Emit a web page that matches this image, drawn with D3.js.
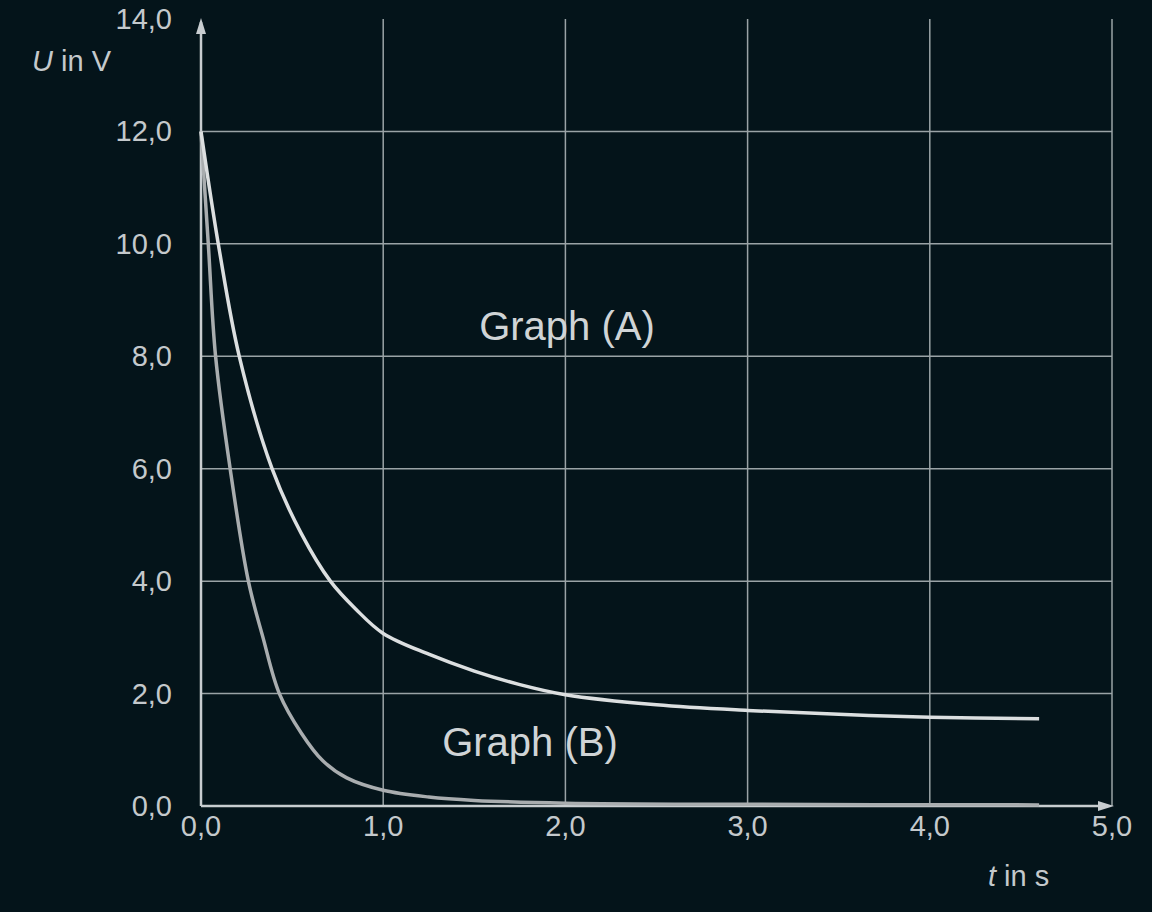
<!DOCTYPE html>
<html><head><meta charset="utf-8">
<script src="https://cdn.jsdelivr.net/npm/d3@7"></script>
<style>body{margin:0;background:#04141a;}svg{display:block;font-family:"Liberation Sans",Arial,sans-serif;}</style>
</head><body><div class="chart"></div>
<script>
// data
const tA = [0, 0.1, 0.21, 0.39, 0.55, 0.71, 0.85, 1.0, 1.25, 1.5, 1.75, 2.0, 2.5, 3.0, 3.5, 4.0, 4.6];
const uA = [12, 9.9, 8.0, 6.0, 4.85, 4.0, 3.5, 3.07, 2.7, 2.4, 2.16, 1.98, 1.8, 1.7, 1.63, 1.58, 1.55];
const tB = [0, 0.04, 0.08, 0.16, 0.26, 0.34, 0.43, 0.55, 0.67, 0.8, 1.0, 1.25, 1.5, 2.0, 3.0, 4.6];
const uB = [12, 10, 8, 6, 4, 3, 2, 1.3, 0.8, 0.5, 0.28, 0.16, 0.1, 0.05, 0.03, 0.02];
const xTicks = [0, 1, 2, 3, 4, 5];
const yTicks = [0, 2, 4, 6, 8, 10, 12, 14];

const width = 1152, height = 912;
const svg = d3.select('.chart').append('svg').attr('width', width).attr('height', height);
svg.append('rect').attr('width', width).attr('height', height).attr('fill', '#04141a');

const x = d3.scaleLinear().domain([0, 5]).range([201, 1112]);
const y = d3.scaleLinear().domain([0, 14]).range([806, 19]);
const fmt = d => d.toFixed(1).replace('.', ',');

// grid
svg.selectAll('.gx').data(xTicks.slice(1)).enter().append('line')
  .attr('x1', d => x(d)).attr('x2', d => x(d)).attr('y1', y(14)).attr('y2', y(0))
  .style('stroke', '#9aa3a6').style('stroke-width', 1.5);
svg.selectAll('.gy').data(yTicks.slice(1, -1)).enter().append('line')
  .attr('x1', x(0)).attr('x2', x(5)).attr('y1', d => y(d)).attr('y2', d => y(d))
  .style('stroke', '#9aa3a6').style('stroke-width', 1.5);

// axes with arrows
svg.append('line').attr('x1', x(0)).attr('x2', x(0)).attr('y1', y(0)).attr('y2', 22)
  .style('stroke', '#c8cdd0').style('stroke-width', 2.5);
svg.append('line').attr('x1', x(0)).attr('x2', 1108).attr('y1', y(0)).attr('y2', y(0))
  .style('stroke', '#c8cdd0').style('stroke-width', 2.5);
svg.append('path').attr('d', `M${x(0)-5},34 L${x(0)},18 L${x(0)+5},34 Z`).attr('fill', '#c8cdd0');
svg.append('path').attr('d', `M1098,${y(0)-5} L1114,${y(0)} L1098,${y(0)+5} Z`).attr('fill', '#c8cdd0');

// tick labels
svg.selectAll('.ty').data(yTicks).enter().append('text')
  .attr('x', 172).attr('y', d => y(d) + 10).attr('text-anchor', 'end')
  .attr('font-size', 29).attr('fill', '#c4c9cc').text(fmt);
svg.selectAll('.tx').data(xTicks).enter().append('text')
  .attr('x', d => x(d)).attr('y', 836).attr('text-anchor', 'middle')
  .attr('font-size', 29).attr('fill', '#c4c9cc').text(fmt);

// axis titles
const yl = svg.append('text').attr('x', 32).attr('y', 71).attr('font-size', 29).attr('fill', '#c4c9cc');
yl.append('tspan').attr('font-style', 'italic').text('U');
yl.append('tspan').text(' in V');
const xl = svg.append('text').attr('x', 988).attr('y', 886).attr('font-size', 29).attr('fill', '#c4c9cc');
xl.append('tspan').attr('font-style', 'italic').text('t');
xl.append('tspan').text(' in s');

// curves
const line = d3.line().x(d => x(d[0])).y(d => y(d[1])).curve(d3.curveCatmullRom.alpha(0.5));
svg.append('path').datum(d3.zip(tB, uB)).attr('d', line)
  .style('fill', 'none').style('stroke', '#a9adaf').style('stroke-width', 3.5);
svg.append('path').datum(d3.zip(tA, uA)).attr('d', line)
  .style('fill', 'none').style('stroke', '#dcdfe0').style('stroke-width', 3.5);

// labels
svg.append('text').attr('x', 567).attr('y', 340).attr('text-anchor', 'middle')
  .attr('font-size', 40).attr('fill', '#d0d4d6').text('Graph (A)');
svg.append('text').attr('x', 530).attr('y', 756).attr('text-anchor', 'middle')
  .attr('font-size', 40).attr('fill', '#d0d4d6').text('Graph (B)');
</script></body></html>
